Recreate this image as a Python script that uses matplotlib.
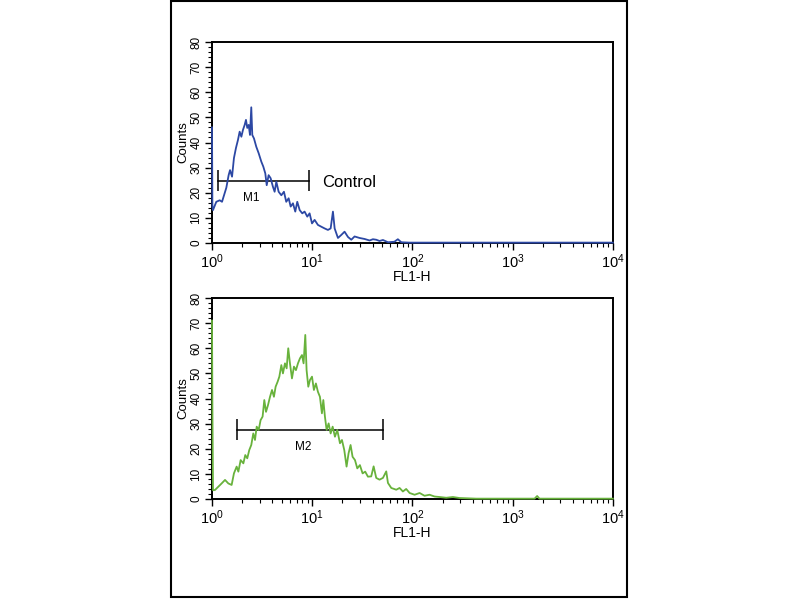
import numpy as np
import matplotlib
matplotlib.use('Agg')
import matplotlib.pyplot as plt
from matplotlib import font_manager
from matplotlib.patches import Rectangle
from matplotlib.ticker import LogLocator, MultipleLocator, FixedLocator


# pick a narrow sans if there is one, else plain Liberation Sans
FONT = 'Liberation Sans'
try:
    font_manager.findfont('Liberation Sans Narrow', fallback_to_default=False)
    FONT = 'Liberation Sans Narrow'
except Exception:
    pass

plt.rcParams['font.family'] = [FONT, 'DejaVu Sans']
plt.rcParams['mathtext.fontset'] = 'custom'
plt.rcParams['mathtext.rm'] = FONT
plt.rcParams['mathtext.it'] = FONT

# control histogram: position in decades of FL1-H, counts
ctrl_log = [0.000, 0.004, 0.010, 0.043, 0.077, 0.100, 0.120, 0.143, 0.166, 0.180,
            0.200, 0.219, 0.239, 0.259, 0.276, 0.293, 0.309, 0.326, 0.339, 0.352,
            0.366, 0.379, 0.392, 0.402, 0.419, 0.442, 0.466, 0.492, 0.512, 0.532,
            0.546, 0.565, 0.585, 0.608, 0.625, 0.642, 0.665, 0.692, 0.718, 0.741,
            0.765, 0.785, 0.808, 0.831, 0.851, 0.875, 0.901, 0.924, 0.951, 0.974,
            0.998, 1.024, 1.057, 1.090, 1.124, 1.157, 1.184, 1.207, 1.224, 1.257,
            1.290, 1.323, 1.357, 1.390, 1.423, 1.473, 1.523, 1.573, 1.606, 1.639,
            1.672, 1.706, 1.756, 1.820, 1.855, 1.889, 1.970, 4.000]
ctrl_counts = [46.0, 14.5, 13.1, 16.4, 17.0, 16.4, 19.0, 22.0, 27.0, 29.0,
               26.4, 33.8, 37.8, 41.0, 44.3, 42.3, 45.0, 47.0, 49.0, 45.8,
               47.0, 43.0, 54.0, 43.0, 41.6, 38.3, 35.7, 32.4, 30.4, 27.7,
               23.0, 27.0, 25.8, 22.4, 20.4, 24.4, 20.4, 19.0, 20.4, 16.4,
               17.8, 14.5, 15.8, 12.5, 16.4, 13.1, 11.8, 12.5, 10.5, 11.8,
               7.8, 9.2, 7.2, 6.5, 5.8, 5.2, 5.8, 12.5, 5.8, 2.0,
               3.2, 4.5, 2.4, 1.3, 2.6, 2.0, 1.6, 1.0, 1.5, 1.3,
               0.8, 1.2, 0.3, 0.5, 1.5, 0.3, 0.15, 0.15]

# stained sample histogram
smp_log = [0.000, 0.004, 0.010, 0.030, 0.063, 0.096, 0.130, 0.163, 0.196, 0.219,
           0.246, 0.263, 0.286, 0.313, 0.332, 0.352, 0.372, 0.392, 0.412, 0.429,
           0.446, 0.466, 0.485, 0.505, 0.522, 0.539, 0.559, 0.579, 0.599, 0.618,
           0.635, 0.655, 0.672, 0.692, 0.708, 0.728, 0.745, 0.761, 0.778, 0.798,
           0.818, 0.838, 0.858, 0.878, 0.898, 0.914, 0.931, 0.944, 0.961, 0.978,
           0.998, 1.017, 1.037, 1.057, 1.077, 1.097, 1.111, 1.127, 1.144, 1.164,
           1.184, 1.204, 1.227, 1.250, 1.277, 1.297, 1.320, 1.343, 1.363, 1.383,
           1.403, 1.427, 1.450, 1.476, 1.503, 1.529, 1.556, 1.589, 1.613, 1.639,
           1.672, 1.706, 1.739, 1.756, 1.789, 1.839, 1.872, 1.905, 1.938, 1.972,
           2.022, 2.072, 2.121, 2.171, 2.221, 2.271, 2.338, 2.404, 2.470, 2.537,
           2.637, 3.219, 3.245, 3.268, 4.000]
smp_counts = [71.0, 38.0, 3.5, 3.6, 4.9, 6.2, 7.6, 6.2, 5.6, 10.2,
              12.9, 10.9, 15.5, 14.2, 17.5, 16.2, 19.5, 21.5, 26.1, 23.5,
              28.8, 27.5, 31.4, 32.8, 39.4, 34.7, 37.4, 40.7, 43.4, 40.7,
              44.7, 46.7, 48.7, 53.3, 50.0, 54.0, 52.0, 60.0, 54.0, 48.0,
              52.7, 51.3, 54.0, 56.0, 57.3, 54.0, 65.3, 51.3, 44.7, 47.4,
              48.7, 43.4, 46.0, 42.7, 40.7, 34.1, 39.4, 32.8, 27.5, 30.1,
              26.1, 28.8, 24.8, 27.5, 22.2, 23.5, 19.5, 12.9, 18.2, 21.5,
              16.8, 15.5, 12.2, 13.5, 10.2, 10.9, 8.9, 9.0, 13.0, 8.4,
              7.7, 8.4, 11.0, 6.4, 4.4, 3.7, 4.4, 3.0, 4.0, 2.4,
              1.7, 2.4, 1.3, 1.7, 1.0, 0.8, 0.5, 0.8, 0.4, 0.3,
              0.15, 0.15, 1.2, 0.15, 0.15]

# marker gates (FL1-H range, height in counts, label x)
m1_range = (1.14, 9.35)
m1_level = 24.7
m1_label_x = 2.45
m2_range = (1.76, 51.2)
m2_level = 27.5
m2_label_x = 8.1
control_x = 12.7

x_decades = [0, 1, 2, 3, 4]
y_major = 10
y_minor = 2
y_max = 80

BLUE = '#2c48a4'
GREEN = '#68b23c'


def style_axes(ax):
    ax.set_xscale('log')
    ax.set_xlim(1, 10 ** 4)
    ax.set_ylim(0, y_max)
    ax.xaxis.set_major_locator(FixedLocator([10.0 ** d for d in x_decades]))
    ax.xaxis.set_minor_locator(LogLocator(base=10, subs=np.arange(2, 10)))
    ax.set_xticklabels([f'$10^{{{d}}}$' for d in x_decades], fontsize=10.5)
    ax.yaxis.set_major_locator(MultipleLocator(y_major))
    ax.yaxis.set_minor_locator(MultipleLocator(y_minor))
    for lab in ax.get_yticklabels():
        lab.set_rotation(90)
        lab.set_va('center')
        lab.set_fontsize(8.5)
    ax.tick_params(which='major', direction='out', length=5, width=1, pad=2)
    ax.tick_params(which='minor', direction='out', length=3, width=0.8)
    for sp in ax.spines.values():
        sp.set_linewidth(1.4)
    ax.set_xlabel('FL1-H', fontsize=10, labelpad=-1)
    ax.set_ylabel('Counts', fontsize=9.5, labelpad=1)


def draw_gate(ax, xr, level, label_x, name):
    ax.plot(xr, [level, level], color='black', lw=1.1)
    ax.vlines(xr, level - 4.2, level + 4.2, color='black', lw=1.1)
    ax.text(label_x, level - 4.5, name, fontsize=8.5, ha='center', va='top')


fig = plt.figure(figsize=(8, 6), dpi=100)
fig.add_artist(Rectangle((0.214, 0.005), 0.57, 0.993, transform=fig.transFigure,
                         fill=False, edgecolor='black', lw=1.5))

ax_top = fig.add_axes([0.265, 0.595, 0.501, 0.335])
ax_bot = fig.add_axes([0.265, 0.1683, 0.501, 0.335])

ax_top.plot(10 ** np.array(ctrl_log), ctrl_counts, color=BLUE, lw=1.3,
            zorder=3, clip_on=False)
draw_gate(ax_top, m1_range, m1_level, m1_label_x, 'M1')
ax_top.text(control_x, m1_level - 0.5, 'Control', fontsize=12,
            ha='left', va='center', family='Liberation Sans')

ax_bot.plot(10 ** np.array(smp_log), smp_counts, color=GREEN, lw=1.3,
            zorder=3, clip_on=False)
draw_gate(ax_bot, m2_range, m2_level, m2_label_x, 'M2')

for ax in (ax_top, ax_bot):
    style_axes(ax)

fig.savefig('out.png', dpi=100)
